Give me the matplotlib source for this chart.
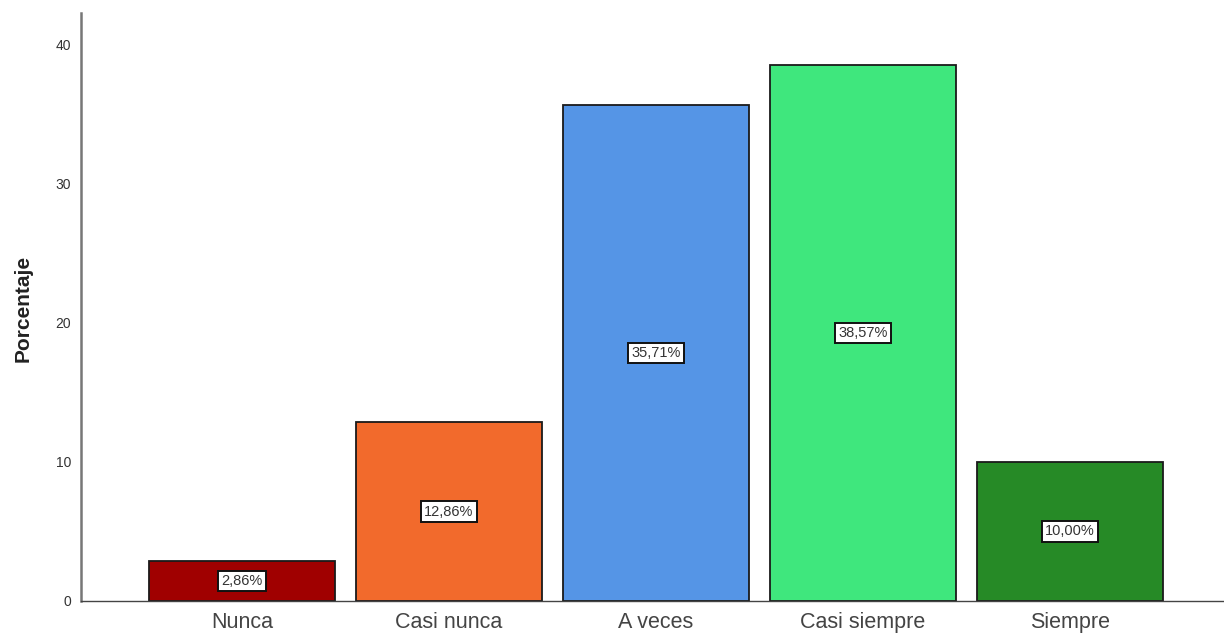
import matplotlib
matplotlib.use("Agg")
import matplotlib.pyplot as plt

categories = ["Nunca", "Casi nunca", "A veces", "Casi siempre", "Siempre"]
percentages = [2.86, 12.86, 35.71, 38.57, 10.00]
colors = ["#a00000", "#f26a2c", "#5595e6", "#3fe77d", "#268a26"]
yticks = [0, 10, 20, 30, 40]

fig = plt.figure(figsize=(12.24, 6.39), dpi=100)
ax = fig.add_axes([81 / 1224, 38 / 639, 1 - 81 / 1224, 588 / 639])

x = list(range(len(categories)))
ax.bar(x, percentages, width=0.9, color=colors, edgecolor="#1a1a1a", linewidth=1.3, zorder=2)

for xi, val in zip(x, percentages):
    label = f"{val:.2f}".replace(".", ",") + "%"
    ax.text(xi, val / 2, label, ha="center", va="center", fontsize=10.5, color="#333333",
            family="Liberation Sans",
            bbox=dict(boxstyle="square,pad=0.22", facecolor="white", edgecolor="#111111", linewidth=1.4),
            zorder=3)

ax.set_xlim(-0.778, 4.744)
ax.set_ylim(0, 42.3)
ax.set_xticks(x)
ax.set_xticklabels(categories, fontsize=15.5, color="#444444", family="Liberation Sans")
ax.set_yticks(yticks)
ax.set_yticklabels([str(t) for t in yticks], fontsize=10, color="#333333", family="Liberation Sans")
ax.tick_params(axis="x", length=0, pad=8)
ax.tick_params(axis="y", length=0, pad=7)

for side in ["top", "right"]:
    ax.spines[side].set_visible(False)
ax.spines["left"].set_color("#777777")
ax.spines["left"].set_linewidth(1.8)
ax.spines["bottom"].set_color("#444444")
ax.spines["bottom"].set_linewidth(1.0)

ax.set_ylabel("Porcentaje", fontsize=15, fontweight="bold", color="#222222",
              family="Liberation Sans")
ax.yaxis.set_label_coords(-0.042, 0.497)

fig.savefig("out.png", dpi=100)
